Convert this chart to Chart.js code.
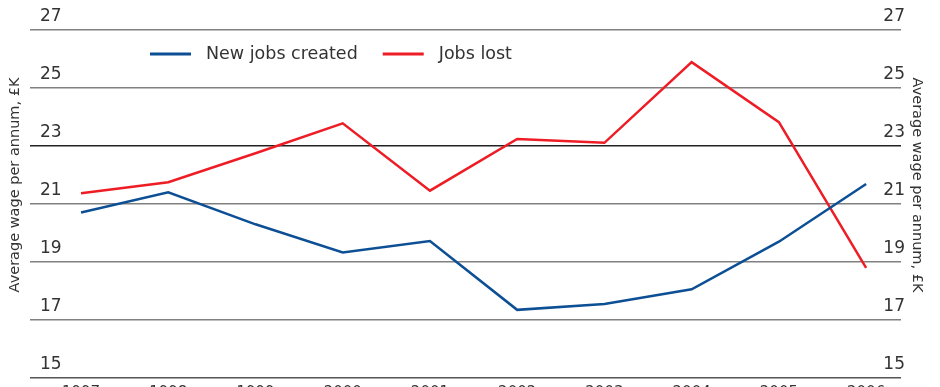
<!DOCTYPE html>
<html>
<head>
<meta charset="utf-8">
<script src="https://cdn.jsdelivr.net/npm/chart.js@4"></script>
<style>
  html, body { margin: 0; padding: 0; background: #fff; overflow: hidden; }
  #wrap { width: 940px; height: 416px; }
</style>
</head>
<body>
<div id="wrap"><canvas id="myChart" width="940" height="416"></canvas></div>
<script>
var years = ['1997', '1998', '1999', '2000', '2001', '2002', '2003', '2004', '2005', '2006'];
var newJobs = [20.71, 21.40, 20.30, 19.33, 19.72, 17.35, 17.55, 18.06, 19.70, 21.69];
var jobsLost = [21.37, 21.75, 22.75, 23.78, 21.46, 23.24, 23.11, 25.89, 23.82, 18.80];
var yTicks = [15, 17, 19, 21, 23, 25, 27];
var axisTitle = 'Average wage per annum, £K';

var fontFamily = "'DejaVu Sans', sans-serif";

function points(values) {
    return values.map(function(v, i) { return { x: i, y: v }; });
}

function gridColor(ctx) {
    if (ctx.tick && ctx.tick.value === 15) return '#555555';
    if (ctx.tick && ctx.tick.value === 23) return '#222222';
    return '#808080';
}

// legend sits inside the plot and the axis titles sit a bit high, so draw them by hand
var extras = {
    id: 'extras',
    afterDraw: function(chart) {
        var c = chart.ctx;
        var x = 150, y = 54;
        c.save();
        c.font = "17.5px " + fontFamily;
        c.textBaseline = 'middle';
        chart.data.datasets.forEach(function(ds) {
            c.strokeStyle = ds.borderColor;
            c.lineWidth = 3;
            c.beginPath();
            c.moveTo(x, y);
            c.lineTo(x + 41, y);
            c.stroke();
            c.fillStyle = '#333333';
            c.fillText(ds.label, x + 56, y);
            x += 56 + c.measureText(ds.label).width + 25;
        });

        c.font = "14.5px " + fontFamily;
        c.textAlign = 'center';
        c.fillStyle = '#333333';
        c.save();
        c.translate(15, 185);
        c.rotate(-Math.PI / 2);
        c.fillText(axisTitle, 0, 0);
        c.restore();
        c.save();
        c.translate(917, 185);
        c.rotate(Math.PI / 2);
        c.fillText(axisTitle, 0, 0);
        c.restore();
        c.restore();
    }
};

var ctx = document.getElementById('myChart').getContext('2d');
var myChart = new Chart(ctx, {
    type: 'line',
    data: {
        datasets: [{
            label: 'New jobs created',
            data: points(newJobs),
            borderColor: '#0d4f94',
            borderWidth: 2.5,
            pointRadius: 0,
            tension: 0
        },
        {
            label: 'Jobs lost',
            data: points(jobsLost),
            borderColor: '#ee1c25',
            borderWidth: 2.5,
            pointRadius: 0,
            tension: 0
        }]
    },
    plugins: [extras],
    options: {
        responsive: false,
        animation: false,
        layout: { padding: { top: 30, bottom: 8, left: 0, right: 0 } },
        plugins: {
            legend: { display: false },
            tooltip: { enabled: false }
        },
        scales: {
            x: {
                type: 'linear',
                min: -0.585,
                max: 9.4,
                afterBuildTicks: function(scale) {
                    scale.ticks = years.map(function(y, i) { return { value: i }; });
                },
                ticks: {
                    callback: function(v) { return years[v]; },
                    autoSkip: false,
                    maxRotation: 0,
                    padding: 6,
                    color: '#333333',
                    font: { family: fontFamily, size: 15 }
                },
                grid: { display: false, drawTicks: false },
                border: { display: false }
            },
            y: {
                position: 'left',
                min: 15,
                max: 27,
                afterBuildTicks: function(scale) {
                    scale.ticks = yTicks.map(function(v) { return { value: v }; });
                },
                afterFit: function(scale) { scale.width = 30; },
                ticks: {
                    mirror: true,
                    padding: 10,
                    labelOffset: -13,
                    color: '#333333',
                    font: { family: fontFamily, size: 17 }
                },
                grid: { color: gridColor, lineWidth: 1.5, drawTicks: false },
                border: { display: false }
            },
            y2: {
                position: 'right',
                min: 15,
                max: 27,
                afterBuildTicks: function(scale) {
                    scale.ticks = yTicks.map(function(v) { return { value: v }; });
                },
                afterFit: function(scale) { scale.width = 39; },
                ticks: {
                    mirror: true,
                    padding: 4,
                    labelOffset: -13,
                    color: '#333333',
                    font: { family: fontFamily, size: 17 }
                },
                grid: { display: false, drawTicks: false },
                border: { display: false }
            }
        }
    }
});
</script>
</body>
</html>
